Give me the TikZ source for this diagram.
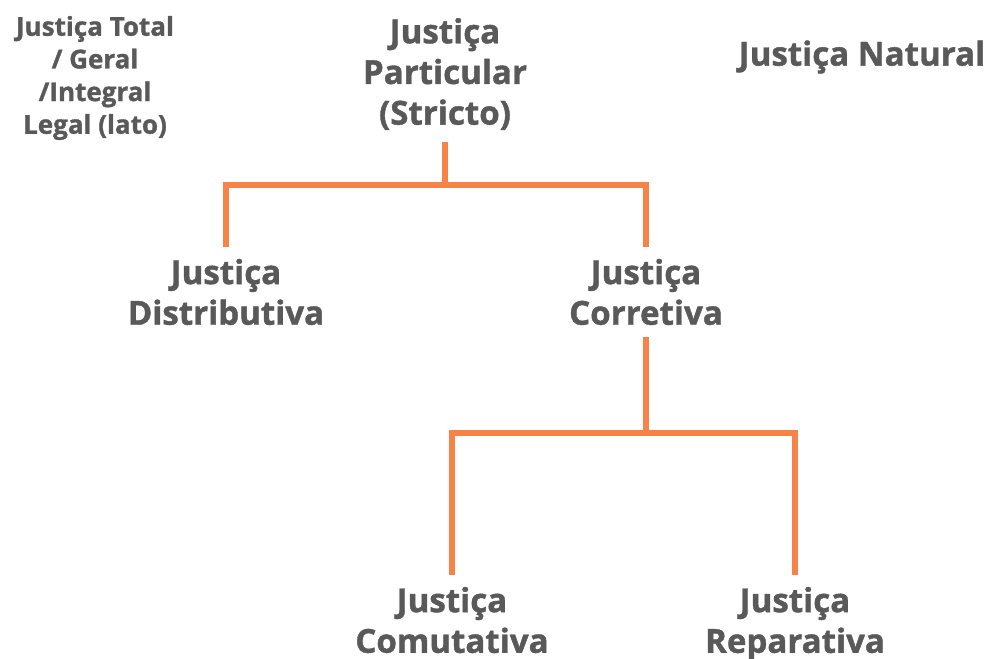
\documentclass[tikz,border=0pt]{standalone}
\usepackage{fontspec}
\setmainfont{Open Sans}[BoldFeatures={FakeBold=1.2}]
\usetikzlibrary{positioning}
\definecolor{ramo}{RGB}{247,131,73}
\definecolor{texto}{RGB}{89,89,89}

\begin{document}
\begin{tikzpicture}[x=0.75pt, y=-0.75pt,
    tipo/.style={align=center, text=texto, inner sep=0pt, outer sep=9pt,
        font=\fontsize{24.8}{30.5}\selectfont\bfseries},
    nota/.style={align=center, text=texto, inner sep=0pt,
        font=\fontsize{19.5}{24.5}\selectfont\bfseries},
    ramo/.style={draw=ramo, line width=4pt}]
            \useasboundingbox (0,0) rectangle (993,659);
            % top row
            \node[nota] (total) at (95,78) {Justiça Total\\/ Geral\\/Integral\\Legal (lato)};
            \node[tipo] (part) at (445,74) {Justiça\\Particular\\(Stricto)};
            \node[tipo] (natural) at (862,57) {Justiça Natural};
            
            % particular
            \node[tipo] (dist) at (226,292) {Justiça\\Distributiva};
            \node[tipo] (corr) at (646,292) {Justiça\\Corretiva};
            
            % corretiva
            \node[tipo, anchor=north] (comu) at (452,575) {Justiça\\Comutativa};
            \node[tipo, anchor=north] (repa) at (795,575) {Justiça\\Reparativa};
            
            \coordinate (n1) at (445,185);
            \coordinate (n2) at (646,433);
            \draw[ramo] (part.south) -- (n1);
            \draw[ramo] (n1) -| (dist.north);
            \draw[ramo] (n1) -| (corr.north);
            \draw[ramo] (corr.south) -- (n2);
            \draw[ramo] (n2) -| (comu.north);
            \draw[ramo] (n2) -| (repa.north);
        \end{tikzpicture}
\end{document}
